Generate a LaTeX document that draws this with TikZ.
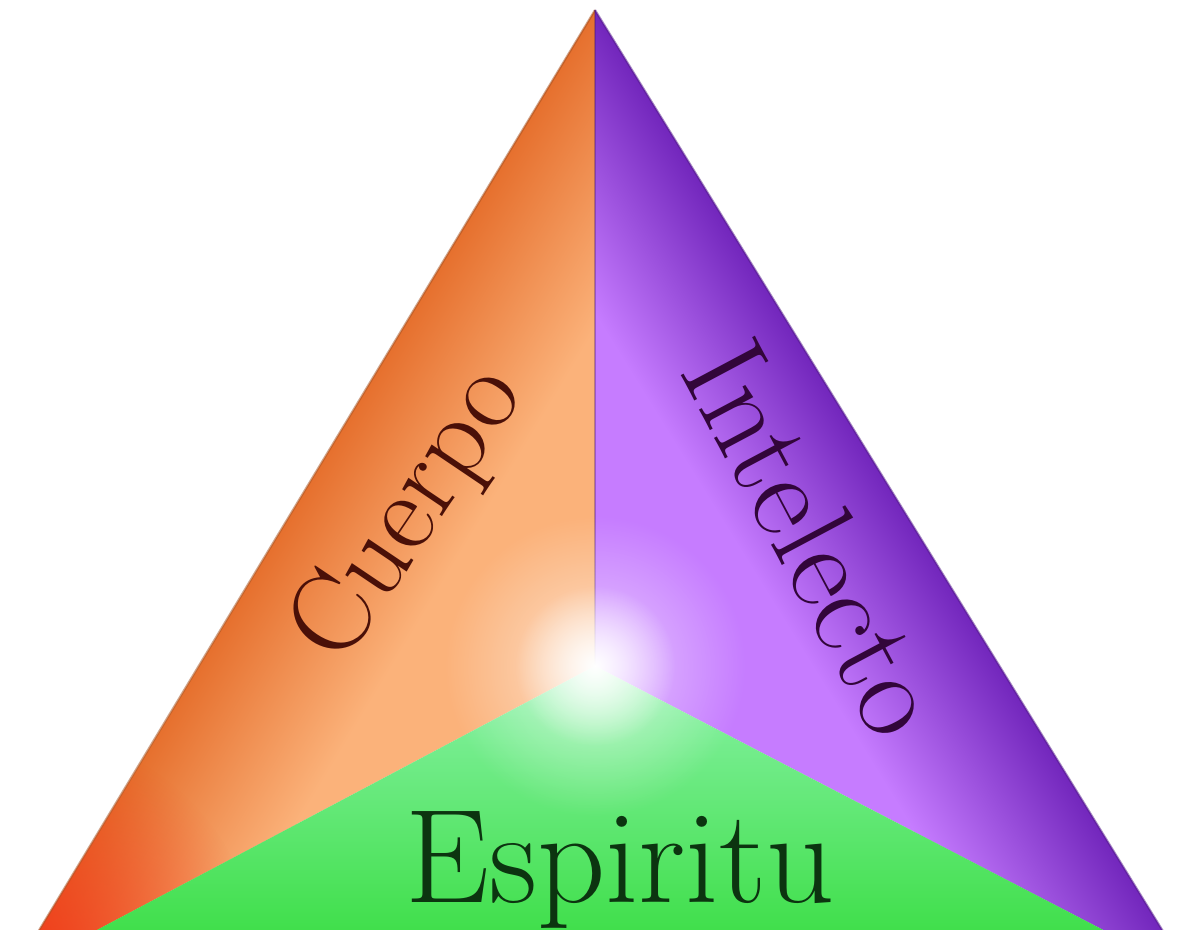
\documentclass[tikz,border=0pt]{standalone}
\usetikzlibrary{fadings}
\definecolor{orangeDark}{HTML}{E6702E}
\definecolor{orangeLight}{HTML}{FBB27A}
\definecolor{orangeRed}{HTML}{F2381A}
\definecolor{purpleDark}{HTML}{7226BC}
\definecolor{purpleLight}{HTML}{C67CFF}
\definecolor{greenLight}{HTML}{8AF2A8}
\definecolor{greenDark}{HTML}{34DC3C}
\definecolor{cuerpoInk}{HTML}{4A1008}
\definecolor{intelectoInk}{HTML}{32063A}
\definecolor{espirituInk}{HTML}{0C3410}
\tikzfading[name=glowfade, inner color=transparent!0, outer color=transparent!100]

\begin{document}
\begin{tikzpicture}[word/.style={font=\fontsize{#1}{#1}\selectfont, inner sep=0pt}]
		\useasboundingbox (0,0) rectangle (11.78,9.30);
		\clip (0,0) rectangle (11.78,9.30);
		\fill[white] (0,0) rectangle (11.78,9.30);

		\coordinate (top) at (5.95,9.20);
		\coordinate (left) at (0.12,-0.45);
		\coordinate (right) at (11.90,-0.45);
		\coordinate (mid) at (5.95,2.64);

		% cuerpo
		\fill[orangeLight] (top)--(mid)--(left)--cycle;
		\begin{scope}
			\clip (top)--(mid)--(left)--cycle;
			\begin{scope}[transform canvas={rotate around={-31.1:(5.95,9.20)}}]
				\shade[left color=orangeDark, right color=orangeLight] (5.95,-3) rectangle (7.6,9.5);
			\end{scope}
			\fill[orangeRed, path fading=glowfade] (0.2,-0.4) circle (2.4);
		\end{scope}

		% intelecto
		\fill[purpleLight] (top)--(mid)--(right)--cycle;
		\begin{scope}
			\clip (top)--(mid)--(right)--cycle;
			\begin{scope}[transform canvas={rotate around={31.7:(5.95,9.20)}}]
				\shade[left color=purpleLight, right color=purpleDark] (4.35,-3) rectangle (5.95,9.5);
			\end{scope}
		\end{scope}

		% espiritu
		\shade[top color=greenLight, bottom color=greenDark] (left)--(mid)--(right)--cycle;

		\draw[orangeDark!70!black, opacity=0.5, line width=0.6pt] (top)--(left);
		\draw[purpleDark!70!black, opacity=0.5, line width=0.6pt] (top)--(right);
		\draw[purpleDark!60!black, opacity=0.35, line width=0.8pt] (top)--(mid);

		\fill[white, opacity=0.6, path fading=glowfade] (mid) circle (1.5);
		\fill[white, path fading=glowfade] (mid) circle (0.8);

		\node[word=32, rotate=56, text=cuerpoInk] (cuerpo) at (4.10,4.15) {Cuerpo};
		\node[word=35, rotate=-62, text=intelectoInk] (intelecto) at (8.15,3.92) {Intelecto};
		\node[word=38, text=espirituInk] (espiritu) at (6.20,0.60) {Espiritu};
	\end{tikzpicture}
\end{document}
